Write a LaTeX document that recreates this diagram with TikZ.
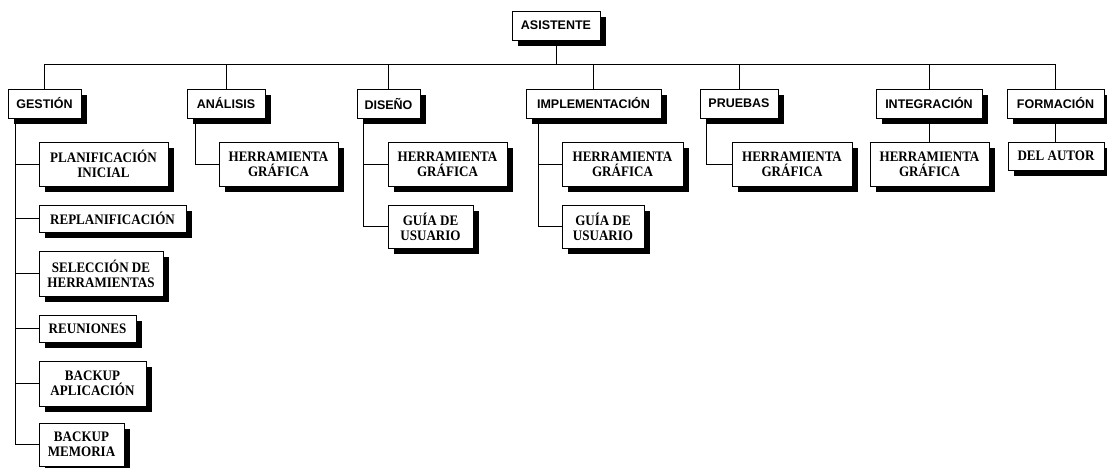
\documentclass[tikz,border=0pt]{standalone}
\usepackage{fontspec}
\setmainfont{Liberation Serif}
\newfontfamily\headfont{Liberation Sans}
\newfontfamily\itemfont{Liberation Serif}[FakeStretch=0.9]
\usetikzlibrary{shadows}

\tikzset{
  box/.style={draw=black, fill=white, line width=1pt, inner sep=0pt,
    align=center,
    drop shadow={shadow xshift=5.5pt, shadow yshift=-5.5pt, fill=black, opacity=1}},
  headbox/.style={box, font=\headfont\bfseries\fontsize{12.5}{14}\selectfont},
  itembox/.style={box, font=\itemfont\bfseries\fontsize{14.5}{15}\selectfont},
  link/.style={line width=1pt, draw=black}
}

\begin{document}
\begin{tikzpicture}[x=1pt, y=-1pt]
  \useasboundingbox (0,0) rectangle (1107,467);
  \clip (0,0) rectangle (1107,467);

  % root
  \node[headbox, minimum width=88pt, minimum height=29pt] (asis) at (556,25.5) {ASISTENTE};

  % first level
  \node[headbox, minimum width=73pt,  minimum height=29pt] (gest)  at (44.5,103.5)  {GESTIÓN};
  \node[headbox, minimum width=78pt,  minimum height=29pt] (anal)  at (226,103.5)   {ANÁLISIS};
  \node[headbox, minimum width=63pt,  minimum height=29pt] (dise)  at (388.5,103.5) {DISEÑO};
  \node[headbox, minimum width=135pt, minimum height=29pt] (impl)  at (593.5,103.5) {IMPLEMENTACIÓN};
  \node[headbox, minimum width=78pt,  minimum height=29pt] (prue)  at (739,103.5)   {PRUEBAS};
  \node[headbox, minimum width=106pt, minimum height=29pt] (integ) at (929,103.5)   {INTEGRACIÓN};
  \node[headbox, minimum width=97pt,  minimum height=29pt] (form)  at (1055.5,103.5){FORMACIÓN};

  % Gestión items
  \node[itembox, minimum width=129pt, minimum height=44pt] (plan)  at (103.5,164)   {PLANIFICACIÓN\\INICIAL};
  \node[itembox, minimum width=147pt, minimum height=27pt] (repl)  at (112.5,218.5) {REPLANIFICACIÓN};
  \node[itembox, minimum width=124pt, minimum height=45pt] (sele)  at (101,273.5)   {SELECCIÓN DE\\HERRAMIENTAS};
  \node[itembox, minimum width=97pt,  minimum height=27pt] (reun)  at (87.5,328.5)  {REUNIONES};
  \node[itembox, minimum width=107pt, minimum height=45pt] (bkapp) at (92.5,383.5)  {BACKUP\\APLICACIÓN};
  \node[itembox, minimum width=85pt,  minimum height=43pt] (bkmem) at (81.5,444.5)  {BACKUP\\MEMORIA};

  % Análisis items
  \node[itembox, minimum width=119pt, minimum height=44pt] (anhg) at (278.5,164) {HERRAMIENTA\\GRÁFICA};

  % Diseño items
  \node[itembox, minimum width=119pt, minimum height=44pt] (dihg) at (447.5,164)   {HERRAMIENTA\\GRÁFICA};
  \node[itembox, minimum width=85pt,  minimum height=43pt] (digu) at (430.5,226.5) {GUÍA DE\\USUARIO};

  % Implementación items
  \node[itembox, minimum width=121pt, minimum height=44pt] (imhg) at (622.5,164)   {HERRAMIENTA\\GRÁFICA};
  \node[itembox, minimum width=82pt,  minimum height=43pt] (imgu) at (603,226.5)   {GUÍA DE\\USUARIO};

  % Pruebas items
  \node[itembox, minimum width=120pt, minimum height=44pt] (prhg) at (792,164) {HERRAMIENTA\\GRÁFICA};

  % Integración items
  \node[itembox, minimum width=119pt, minimum height=44pt] (inhg) at (929.5,164) {HERRAMIENTA\\GRÁFICA};

  % Formación items
  \node[itembox, minimum width=96pt, minimum height=28pt] (auto) at (1056,156) {DEL AUTOR};

  % bus under the root
  \coordinate (bus) at (0,64);
  \draw[link] (asis.south) -- (asis.south |- bus);
  \draw[link] (gest.north) -- (gest.north |- bus) -| (form.north);
  \foreach \n in {anal,dise,impl,prue,integ}
    \draw[link] (\n.north) -- (\n.north |- bus);

  % side rails
  \coordinate (gestrail) at ([xshift=8pt]gest.south west);
  \coordinate (analrail) at ([xshift=9pt]anal.south west);
  \coordinate (diserail) at ([xshift=7pt]dise.south west);
  \coordinate (implrail) at ([xshift=13pt]impl.south west);
  \coordinate (pruerail) at ([xshift=7pt]prue.south west);

  \draw[link] (gestrail) |- (bkmem.west);
  \foreach \n in {plan,repl,sele,reun,bkapp}
    \draw[link] (gestrail |- \n.west) -- (\n.west);
  \draw[link] (analrail) |- (anhg.west);
  \draw[link] (diserail) |- (digu.west);
  \draw[link] (diserail |- dihg.west) -- (dihg.west);
  \draw[link] (implrail) |- (imgu.west);
  \draw[link] (implrail |- imhg.west) -- (imhg.west);
  \draw[link] (pruerail) |- (prhg.west);

  % straight drops
  \draw[link] (integ.south) -- (integ.south |- inhg.north);
  \draw[link] (form.south) -- (form.south |- auto.north);
\end{tikzpicture}
\end{document}
